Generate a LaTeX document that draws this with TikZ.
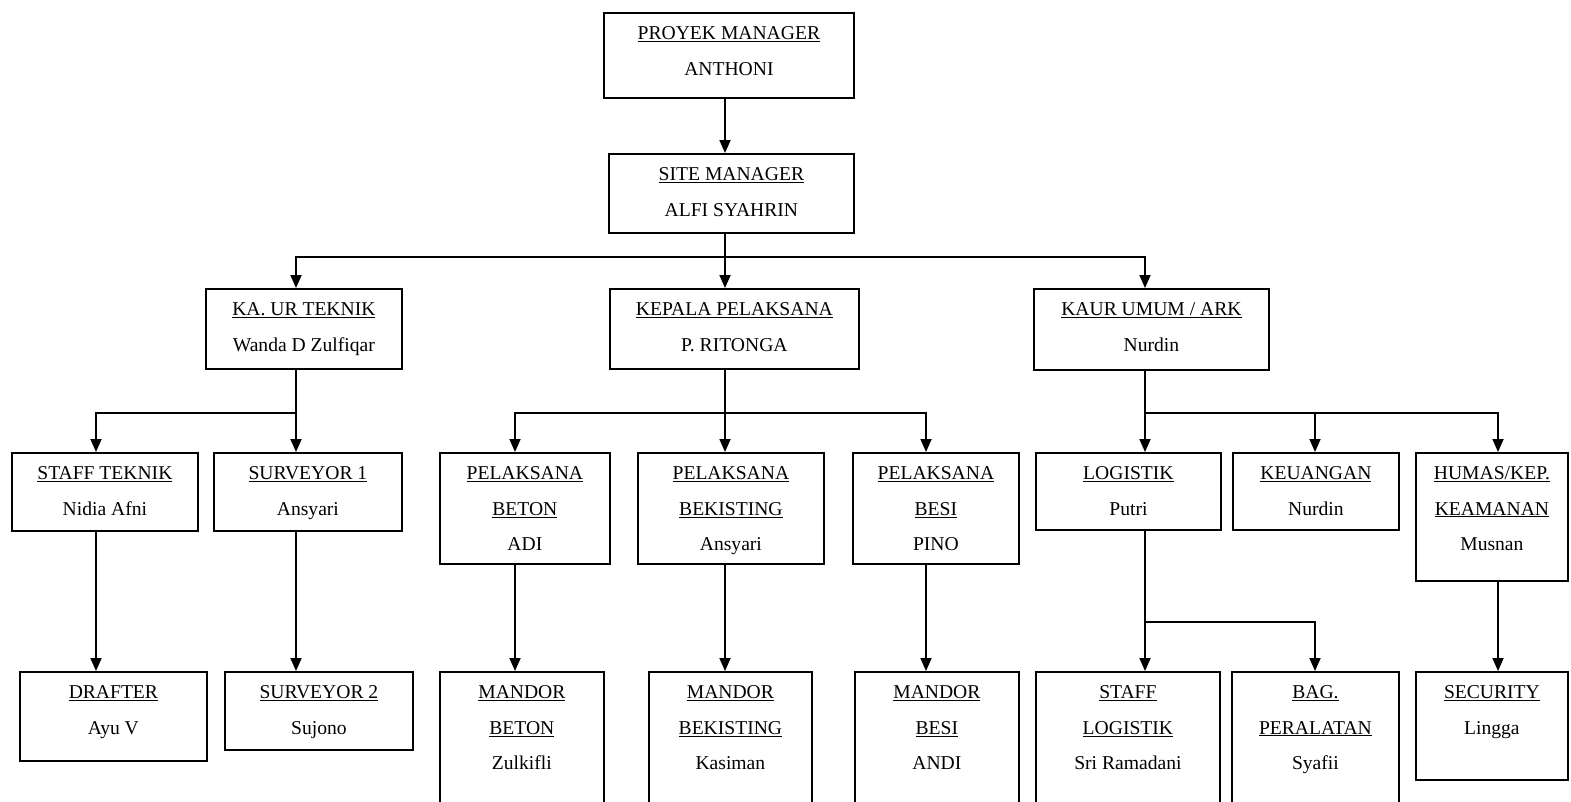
\documentclass[tikz,border=0pt]{standalone}
\usepackage{fontspec}
\setmainfont{Liberation Serif}
\usetikzlibrary{arrows.meta,calc}
\newcommand\orgbox[5]{\node[box,anchor=north west,minimum width={#4-#2},minimum height={#5-#3}] (#1) at (#2,#3) {};}
\newcommand\orgtext[2]{\node[txt] (#1-t) at ([yshift=-14.5pt]#1.north) {#2};}
\begin{document}
\begin{tikzpicture}[x=1pt,y=-1pt,
  box/.style={draw,line width=1.8pt,rectangle,inner sep=0pt},
  txt/.style={align=center,inner sep=0pt,anchor=north,font=\fontsize{19.6}{35.5}\selectfont},
  ln/.style={line width=1.8pt},
  arr/.style={line width=1.8pt,-{Triangle[width=11pt,length=13pt]}}]
\clip (0,0) rectangle (1571,801);
% boxes
\orgbox{pm}{603}{12}{853}{97}
\orgbox{sm}{608}{153}{853}{232}
\orgbox{ka}{205}{288}{401}{368}
\orgbox{kp}{609}{288}{858}{368}
\orgbox{ku}{1033}{288}{1268}{369}
\orgbox{st}{11}{452}{197}{530}
\orgbox{s1}{213}{452}{401}{530}
\orgbox{pb}{439}{452}{609}{563}
\orgbox{pk}{637}{452}{823}{563}
\orgbox{ps}{852}{452}{1018}{563}
\orgbox{lg}{1035}{452}{1220}{529}
\orgbox{ke}{1232}{452}{1398}{529}
\orgbox{hu}{1415}{452}{1567}{580}
\orgbox{dr}{19}{671}{206}{760}
\orgbox{s2}{224}{671}{412}{749}
\orgbox{mb}{439}{671}{603}{820}
\orgbox{mk}{648}{671}{811}{820}
\orgbox{ms}{854}{671}{1018}{820}
\orgbox{sl}{1035}{671}{1219}{820}
\orgbox{bp}{1231}{671}{1398}{820}
\orgbox{se}{1415}{671}{1567}{779}
% texts
\orgtext{pm}{\underline{PROYEK MANAGER}\\ANTHONI}
\orgtext{sm}{\underline{SITE MANAGER}\\ALFI SYAHRIN}
\orgtext{ka}{\underline{KA. UR TEKNIK}\\Wanda D Zulfiqar}
\orgtext{kp}{\underline{KEPALA PELAKSANA}\\P. RITONGA}
\orgtext{ku}{\underline{KAUR UMUM / ARK}\\Nurdin}
\orgtext{st}{\underline{STAFF TEKNIK}\\Nidia Afni}
\orgtext{s1}{\underline{SURVEYOR 1}\\Ansyari}
\orgtext{pb}{\underline{PELAKSANA}\\\underline{BETON}\\ADI}
\orgtext{pk}{\underline{PELAKSANA}\\\underline{BEKISTING}\\Ansyari}
\orgtext{ps}{\underline{PELAKSANA}\\\underline{BESI}\\PINO}
\orgtext{lg}{\underline{LOGISTIK}\\Putri}
\orgtext{ke}{\underline{KEUANGAN}\\Nurdin}
\orgtext{hu}{\underline{HUMAS/KEP.}\\\underline{KEAMANAN}\\Musnan}
\orgtext{dr}{\underline{DRAFTER}\\Ayu V}
\orgtext{s2}{\underline{SURVEYOR 2}\\Sujono}
\orgtext{mb}{\underline{MANDOR}\\\underline{BETON}\\Zulkifli}
\orgtext{mk}{\underline{MANDOR}\\\underline{BEKISTING}\\Kasiman}
\orgtext{ms}{\underline{MANDOR}\\\underline{BESI}\\ANDI}
\orgtext{sl}{\underline{STAFF}\\\underline{LOGISTIK}\\Sri Ramadani}
\orgtext{bp}{\underline{BAG.}\\\underline{PERALATAN}\\Syafii}
\orgtext{se}{\underline{SECURITY}\\Lingga}
% column coordinates
\coordinate (xc) at (725,0);
\coordinate (xa) at (296,0);
\coordinate (xu) at (1145,0);
\coordinate (x1) at (96,0);
\coordinate (x2) at (296,0);
\coordinate (x3) at (515,0);
\coordinate (x4) at (725,0);
\coordinate (x5) at (926,0);
\coordinate (x6) at (1145,0);
\coordinate (x7) at (1315,0);
\coordinate (x8) at (1498,0);
\coordinate (b0) at (725,257);
\coordinate (ba) at (296,413);
\coordinate (bc) at (725,413);
\coordinate (bu) at (1145,413);
\coordinate (bl) at (1145,622);
% connectors
\draw[arr] (pm.south -| xc) -- (sm.north -| xc);
\draw[ln] (sm.south -| xc) -- (b0);
\draw[arr] (b0) -| (ka.north -| xa);
\draw[arr] (b0) -- (kp.north -| xc);
\draw[arr] (b0) -| (ku.north -| xu);
\draw[ln] (ka.south -| xa) -- (ba);
\draw[arr] (ba) -| (st.north -| x1);
\draw[arr] (ba) -- (s1.north -| x2);
\draw[ln] (kp.south -| xc) -- (bc);
\draw[arr] (bc) -| (pb.north -| x3);
\draw[arr] (bc) -- (pk.north -| x4);
\draw[arr] (bc) -| (ps.north -| x5);
\draw[ln] (ku.south -| xu) -- (bu);
\draw[arr] (bu) -- (lg.north -| x6);
\draw[arr] (bu) -| (ke.north -| x7);
\draw[arr] (bu) -| (hu.north -| x8);
\draw[arr] (st.south -| x1) -- (dr.north -| x1);
\draw[arr] (s1.south -| x2) -- (s2.north -| x2);
\draw[arr] (pb.south -| x3) -- (mb.north -| x3);
\draw[arr] (pk.south -| x4) -- (mk.north -| x4);
\draw[arr] (ps.south -| x5) -- (ms.north -| x5);
\draw[ln] (lg.south -| x6) -- (bl);
\draw[arr] (bl) -- (sl.north -| x6);
\draw[arr] (bl) -| (bp.north -| x7);
\draw[arr] (hu.south -| x8) -- (se.north -| x8);
\end{tikzpicture}
\end{document}
